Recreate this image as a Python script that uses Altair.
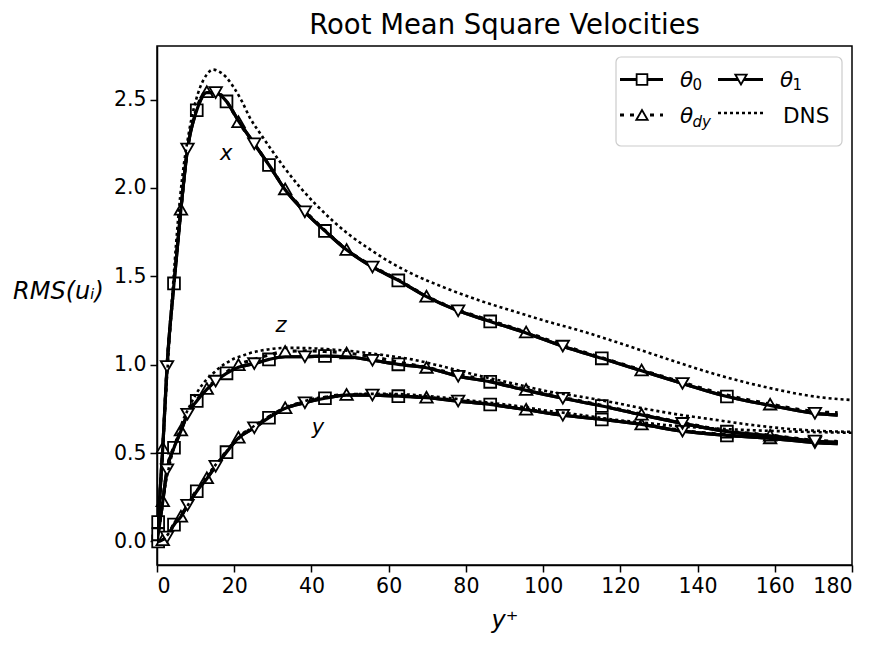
import altair as alt
import pandas as pd

# ---------------- data ----------------
# y+ positions of the model samples (markers alternate square / up / down)
YP = [0, 0.3, 1.5, 2.6, 4.4, 6.2, 7.9, 10.3, 12.9, 15.2, 18.0, 21.1, 25.2, 29.0, 33.2, 38.3,
      43.5, 49.1, 55.8, 62.5, 69.8, 78.0, 86.3, 95.6, 105.1, 115.2, 125.5, 136.1, 147.6,
      158.8, 170.4, 176.3]

# theta_0 / theta_1 (solid) and theta_dy (dotted) model curves
X_SOLID = [0, 0.11, 0.53, 0.99, 1.46, 1.88, 2.22, 2.44, 2.54, 2.54, 2.49, 2.38, 2.25, 2.13, 1.99,
           1.865, 1.757, 1.65, 1.553, 1.477, 1.385, 1.305, 1.245, 1.18, 1.105, 1.036, 0.966,
           0.894, 0.82, 0.77, 0.725, 0.715]
X_DY = [0, 0.11, 0.53, 0.99, 1.46, 1.88, 2.22, 2.45, 2.545, 2.545, 2.49, 2.375, 2.25, 2.13, 1.995,
        1.87, 1.76, 1.652, 1.558, 1.48, 1.388, 1.31, 1.25, 1.185, 1.11, 1.04, 0.97, 0.9, 0.828,
        0.777, 0.735, 0.728]
Y_SOLID = [0, 0.0, 0.01, 0.025, 0.095, 0.14, 0.205, 0.284, 0.355, 0.425, 0.505, 0.586, 0.643,
           0.70, 0.753, 0.785, 0.81, 0.828, 0.828, 0.822, 0.813, 0.794, 0.775, 0.745, 0.714,
           0.69, 0.662, 0.624, 0.60, 0.583, 0.559, 0.553]
Y_DY = [0, 0.0, 0.01, 0.027, 0.098, 0.143, 0.21, 0.29, 0.36, 0.43, 0.51, 0.59, 0.648, 0.705,
        0.757, 0.79, 0.815, 0.832, 0.832, 0.826, 0.816, 0.797, 0.778, 0.748, 0.717, 0.693,
        0.664, 0.627, 0.604, 0.586, 0.562, 0.556]
Z_SOLID = [0, 0.04, 0.227, 0.405, 0.53, 0.625, 0.72, 0.795, 0.86, 0.907, 0.951, 0.985, 1.006,
           1.03, 1.045, 1.045, 1.049, 1.045, 1.025, 1.002, 0.983, 0.935, 0.903, 0.855, 0.81,
           0.766, 0.716, 0.668, 0.621, 0.597, 0.568, 0.56]
Z_DY = [0, 0.04, 0.23, 0.41, 0.535, 0.63, 0.725, 0.80, 0.865, 0.912, 0.958, 1.0, 1.03, 1.055,
        1.075, 1.078, 1.075, 1.066, 1.045, 1.015, 0.985, 0.945, 0.91, 0.86, 0.815, 0.77, 0.72,
        0.672, 0.626, 0.601, 0.572, 0.565]

# DNS reference curves
DNS_YP = [0, 1, 2, 3, 4, 5, 6, 7, 8, 9, 10, 11, 12, 13, 14.5, 16, 18, 20, 22, 24, 27, 30, 33,
          37, 41, 46, 50, 55, 60, 66, 74, 84, 92, 101, 110, 118, 127, 135, 144, 153, 161, 166,
          172, 180]
DNS_X = [0, 0.36, 0.72, 1.07, 1.40, 1.70, 1.95, 2.14, 2.28, 2.40, 2.49, 2.56, 2.61, 2.645,
         2.67, 2.66, 2.625, 2.565, 2.49, 2.40, 2.30, 2.205, 2.115, 2.005, 1.91, 1.805, 1.732,
         1.655, 1.585, 1.515, 1.44, 1.36, 1.305, 1.245, 1.19, 1.135, 1.07, 1.012, 0.95, 0.897,
         0.857, 0.835, 0.815, 0.80]
DNS_Z = [0, 0.16, 0.30, 0.41, 0.50, 0.57, 0.64, 0.70, 0.745, 0.79, 0.83, 0.865, 0.895, 0.92,
         0.95, 0.98, 1.01, 1.035, 1.05, 1.065, 1.08, 1.09, 1.095, 1.095, 1.092, 1.085, 1.078,
         1.065, 1.05, 1.03, 0.99, 0.935, 0.895, 0.85, 0.818, 0.787, 0.748, 0.718, 0.69, 0.662,
         0.642, 0.633, 0.625, 0.62]
DNS_Y = [0, 0.005, 0.02, 0.045, 0.08, 0.11, 0.14, 0.17, 0.205, 0.24, 0.275, 0.31, 0.34, 0.37,
         0.415, 0.455, 0.51, 0.555, 0.60, 0.635, 0.68, 0.72, 0.752, 0.785, 0.81, 0.82, 0.83,
         0.835, 0.835, 0.83, 0.815, 0.79, 0.77, 0.74, 0.715, 0.69, 0.67, 0.652, 0.64, 0.63,
         0.624, 0.621, 0.618, 0.615]

# component annotations
ANN_TEXT = ["x", "z", "y"]
ANN_X = [17.9, 32.1, 41.7]
ANN_Y = [2.195, 1.22, 0.641]

X_TICKS = [0, 20, 40, 60, 80, 100, 120, 140, 160, 180]
Y_TICKS = [0.0, 0.5, 1.0, 1.5, 2.0, 2.5]

TITLE = "Root Mean Square Velocities"

# ---------------- tables ----------------
rows = []
for comp, solid, dy in (("x", X_SOLID, X_DY), ("y", Y_SOLID, Y_DY), ("z", Z_SOLID, Z_DY)):
    for model, vals, off in (("t0", solid, 0), ("tdy", dy, 1), ("t1", solid, 2)):
        for i, (p, v) in enumerate(zip(YP, vals)):
            mk = (1 <= i <= 30) and ((i - 1) % 3 == off)
            rows.append(dict(yp=p, v=v, comp=comp, model=model, series=model + comp, marker=mk))
df = pd.DataFrame(rows)

dns_rows = []
for comp, vals in (("x", DNS_X), ("y", DNS_Y), ("z", DNS_Z)):
    for p, v in zip(DNS_YP, vals):
        dns_rows.append(dict(yp=p, v=v, comp=comp))
dns = pd.DataFrame(dns_rows)

ann = pd.DataFrame(dict(t=ANN_TEXT, yp=ANN_X, v=ANN_Y))

FONT = "DejaVu Sans"
xs = alt.Scale(domain=[0, 180], nice=False, zero=False)
ys = alt.Scale(domain=[-0.1335, 2.8035], nice=False, zero=False)

X = alt.X("yp:Q", scale=xs,
          axis=alt.Axis(values=X_TICKS, title="y⁺", titleFontStyle="italic",
                        titleY=55, titleBaseline="middle"))
Y = alt.Y("v:Q", scale=ys,
          axis=alt.Axis(values=Y_TICKS, format=".1f", title="RMS(uᵢ)", titleFontStyle="italic",
                        titleAngle=0, titleX=-99, titleY=245, titleAlign="center",
                        titleBaseline="middle"))

DOT_DY = [4, 6]
DOT_DNS = [3, 3]
SQ = 140
TRI = 155


def model_layers(model, shape, size, dash):
    d = df[df.model == model]
    lk = dict(color="black", strokeWidth=3.2, interpolate="monotone", clip=True)
    if dash:
        lk["strokeDash"] = dash
    line = alt.Chart(d).mark_line(**lk).encode(x=X, y=Y, detail="series:N", order="yp:Q")
    pts = alt.Chart(d[d.marker]).mark_point(shape=shape, size=size, filled=True, fill="white",
                                            stroke="black", strokeWidth=1.8, opacity=1).encode(
        x=alt.X("yp:Q", scale=xs), y=alt.Y("v:Q", scale=ys))
    return [line, pts]


layers = []
layers += model_layers("t0", "square", SQ, None)
layers += model_layers("tdy", "triangle-up", TRI, DOT_DY)
layers += model_layers("t1", "triangle-down", TRI, None)

dns_line = alt.Chart(dns).mark_line(color="black", strokeWidth=2.6, strokeDash=DOT_DNS,
                                    interpolate="monotone", clip=True).encode(
    x=alt.X("yp:Q", scale=xs), y=alt.Y("v:Q", scale=ys), detail="comp:N", order="yp:Q")
layers.append(dns_line)

ann_text = alt.Chart(ann).mark_text(font=FONT, fontSize=21, fontStyle="italic", color="black",
                                    align="center", baseline="middle").encode(
    x=alt.X("yp:Q", scale=xs), y=alt.Y("v:Q", scale=ys), text="t:N")
layers.append(ann_text)

# ---------------- hand-made legend and title (pixel layout) ----------------
one = pd.DataFrame({"k": [0]})


def lg_rule(x1, x2, y, dash=None, width=3.2):
    kw = dict(color="black", strokeWidth=width)
    if dash:
        kw["strokeDash"] = dash
    return alt.Chart(one).mark_rule(**kw).encode(x=alt.value(x1), x2=alt.value(x2), y=alt.value(y))


def lg_point(x, y, shape, size):
    return alt.Chart(one).mark_point(shape=shape, size=size, filled=True, fill="white",
                                     stroke="black", strokeWidth=1.8, opacity=1).encode(
        x=alt.value(x), y=alt.value(y))


def lg_text(x, y, txt, size=21.5, style="normal", align="left"):
    return alt.Chart(one).mark_text(text=txt, font=FONT, fontSize=size, fontStyle=style,
                                    color="black", align=align, baseline="alphabetic").encode(
        x=alt.value(x), y=alt.value(y))


legend = [
    alt.Chart(one).mark_rect(fill="white", fillOpacity=0.85, stroke="#cccccc", strokeWidth=1.2,
                             cornerRadius=5).encode(
        x=alt.value(459), x2=alt.value(685), y=alt.value(11), y2=alt.value(100)),
    lg_rule(463, 506, 33.5), lg_point(485, 33.5, "square", 115),
    lg_text(523, 41, "θ", style="italic"), lg_text(535.5, 44, "0", size=15),
    lg_rule(561, 606, 33.5), lg_point(584, 33.5, "triangle-down", 130),
    lg_text(623, 41, "θ", style="italic"), lg_text(635.5, 44, "1", size=15),
    lg_rule(463, 506, 69, dash=DOT_DY), lg_point(485, 69, "triangle-up", 130),
    lg_text(523, 77, "θ", style="italic"), lg_text(535.5, 81, "dy", size=15, style="italic"),
    lg_rule(561, 606, 67, dash=DOT_DNS, width=2.6),
    lg_text(626, 77, "DNS"),
    lg_text(347.5, -12.3, TITLE, size=27.5, align="center"),
]
layers += legend

chart = alt.layer(*layers).properties(
    width=695, height=519,
    autosize=alt.AutoSizeParams(type="none"),
    padding={"left": 149, "top": 38, "right": 25, "bottom": 70},
).configure_view(stroke="black", strokeWidth=1.5).configure_axis(
    grid=False, domainColor="black", domainWidth=1.5, tickColor="black", tickWidth=1.5,
    tickSize=7, labelFont=FONT, labelFontSize=20.5, labelColor="black", labelPadding=4,
    titleFont=FONT, titleFontSize=24, titleColor="black", titleFontWeight="normal",
)

chart.save("out.html", embed_options={"renderer": "svg", "actions": False})
